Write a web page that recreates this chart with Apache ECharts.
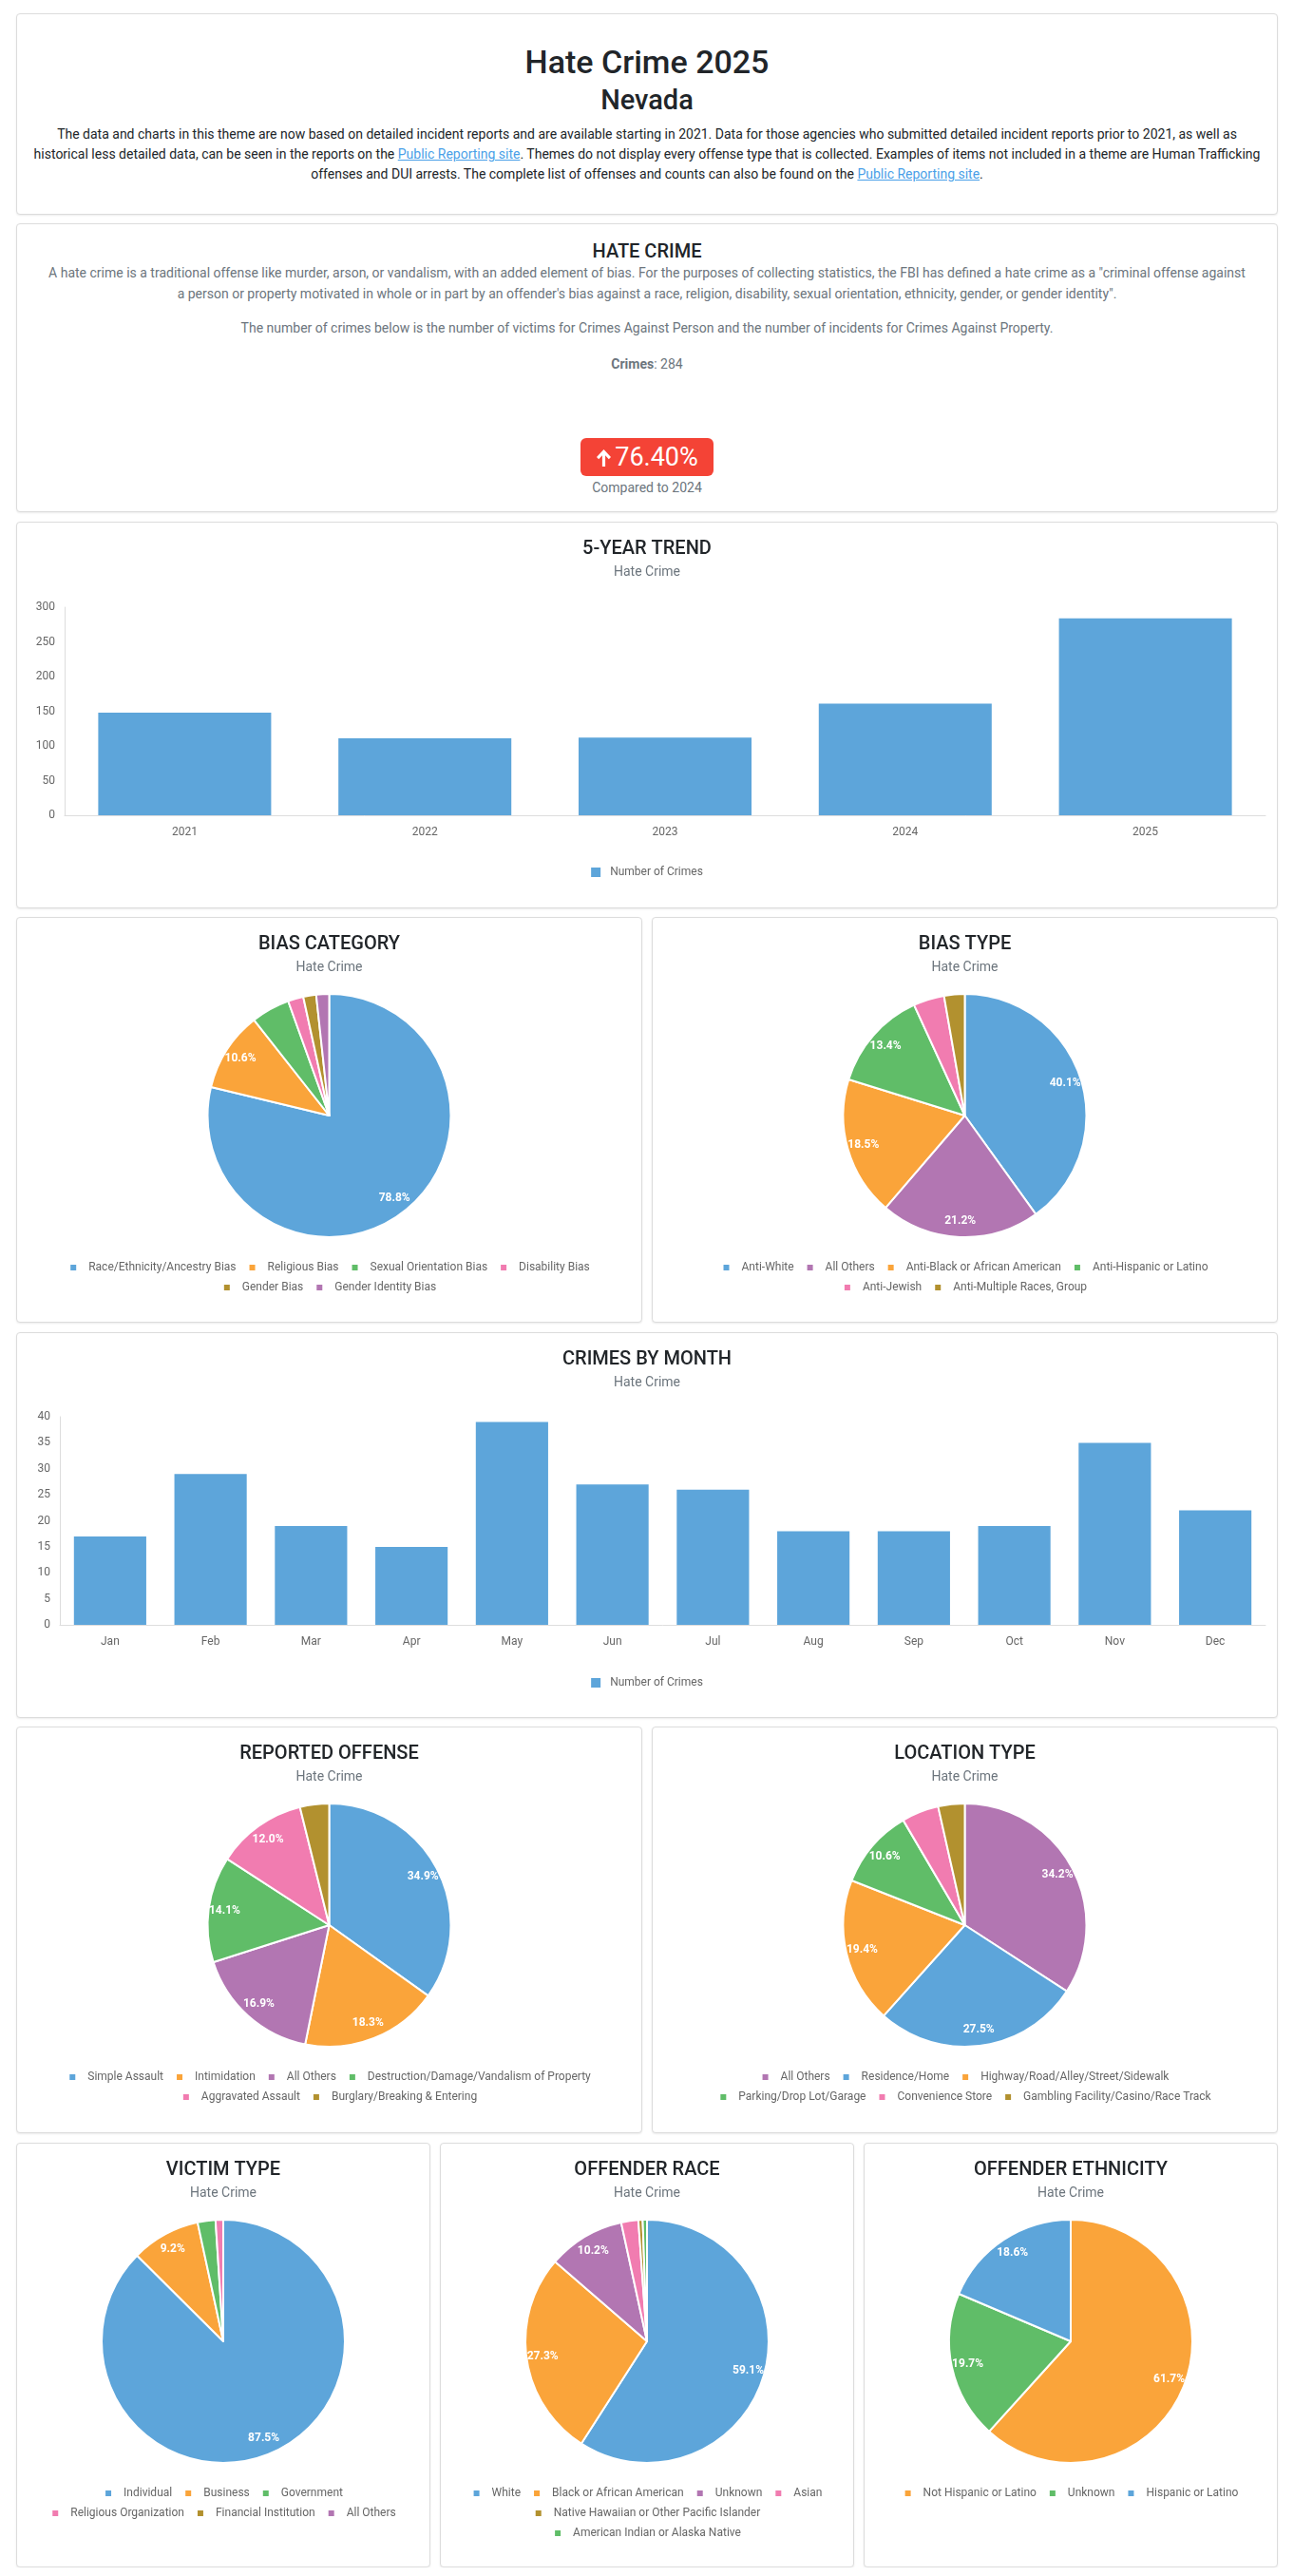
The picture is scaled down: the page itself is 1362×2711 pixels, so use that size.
<!DOCTYPE html>
<html>
<head>
<meta charset="utf-8">
<title>Hate Crime 2025 - Nevada</title>
<script src="https://cdn.jsdelivr.net/npm/echarts@6/dist/echarts.min.js"></script>
<style>
    body { margin: 0; background: #fff; font-family: Roboto, "Noto Sans", sans-serif; }
    .page { width: 1328px; margin: 0 17px; padding-top: 14px; }
    .card { position: relative; box-sizing: border-box; border: 1px solid #dcdcdc; border-radius: 4px;
            box-shadow: 0 1px 2px rgba(0,0,0,0.08); background: #fff; }
    .row { display: flex; gap: 10px; }
    .row .card { flex: 1 1 0; }
    .chart { width: 100%; height: 100%; }
    .line { position: absolute; left: 0; right: 0; text-align: center; white-space: nowrap; }
    .h1 { font-size: 34px; line-height: 40px; font-weight: 500; color: #212529; }
    .h2 { font-size: 29px; line-height: 34px; font-weight: 500; color: #212529; }
    .h3 { font-size: 20px; line-height: 24px; font-weight: 500; color: #212529; }
    .txt { font-size: 14px; line-height: 21px; color: #212529; }
    .muted { font-size: 14px; line-height: 22px; color: #6c757d; }
    a { color: #4a9fe8; text-decoration: underline; }
    .badge { position: absolute; left: 50%; margin-left: -70px; width: 140px; height: 40px; border-radius: 6px;
             background: #f44336; color: #fff; font-size: 27px; line-height: 40px; text-align: center; }
    .badge svg { vertical-align: -2px; margin-right: 3px; }
</style>
</head>
<body>
<div class="page">

    <div class="card" style="height:212px;">
        <div class="line h1" style="top:30px;">Hate Crime 2025</div>
        <div class="line h2" style="top:73px;">Nevada</div>
        <div class="line txt" style="top:116px;">
            The data and charts in this theme are now based on detailed incident reports and are available starting in 2021. Data for those agencies who submitted detailed incident reports prior to 2021, as well as<br>
            historical less detailed data, can be seen in the reports on the <a>Public Reporting site</a>. Themes do not display every offense type that is collected. Examples of items not included in a theme are Human Trafficking<br>
            offenses and DUI arrests. The complete list of offenses and counts can also be found on the <a>Public Reporting site</a>.
        </div>
    </div>

    <div class="card" style="height:304px; margin-top:9px;">
        <div class="line h3" style="top:16px;">HATE CRIME</div>
        <div class="line muted" style="top:40px;">
            A hate crime is a traditional offense like murder, arson, or vandalism, with an added element of bias. For the purposes of collecting statistics, the FBI has defined a hate crime as a "criminal offense against<br>
            a person or property motivated in whole or in part by an offender's bias against a race, religion, disability, sexual orientation, ethnicity, gender, or gender identity".
        </div>
        <div class="line muted" style="top:98px;">The number of crimes below is the number of victims for Crimes Against Person and the number of incidents for Crimes Against Property.</div>
        <div class="line muted" style="top:136px;"><b>Crimes</b>: <span id="crimeTotal"></span></div>
        <div class="badge" style="top:225px;"><svg width="17" height="20" viewBox="0 0 17 20"><path d="M8.5 1 L16 9 L13.8 11.2 L10.1 7.3 L10.1 19 L6.9 19 L6.9 7.3 L3.2 11.2 L1 9 Z" fill="#fff"/></svg><span id="changePct"></span></div>
        <div class="line muted" style="top:266px;">Compared to <span id="prevYear"></span></div>
    </div>

    <div class="card" style="height:407px; margin-top:10px;"><div class="chart" id="trend"></div></div>

    <div class="row" style="height:427px; margin-top:9px;">
        <div class="card"><div class="chart" id="biasCategory"></div></div>
        <div class="card"><div class="chart" id="biasType"></div></div>
    </div>

    <div class="card" style="height:406px; margin-top:10px;"><div class="chart" id="byMonth"></div></div>

    <div class="row" style="height:428px; margin-top:9px;">
        <div class="card"><div class="chart" id="offense"></div></div>
        <div class="card"><div class="chart" id="location"></div></div>
    </div>

    <div class="row" style="height:447px; margin-top:10px;">
        <div class="card"><div class="chart" id="victimType"></div></div>
        <div class="card"><div class="chart" id="offenderRace"></div></div>
        <div class="card"><div class="chart" id="offenderEthnicity"></div></div>
    </div>
</div>

<script>
// data
const trendYears = ["2021", "2022", "2023", "2024", "2025"];
const trendCrimes = [148, 111, 112, 161, 284];

const months = ["Jan", "Feb", "Mar", "Apr", "May", "Jun", "Jul", "Aug", "Sep", "Oct", "Nov", "Dec"];
const monthCrimes = [17, 29, 19, 15, 39, 27, 26, 18, 18, 19, 35, 22];

const biasCategoryNames = ["Race/Ethnicity/Ancestry Bias", "Religious Bias", "Sexual Orientation Bias", "Disability Bias", "Gender Bias", "Gender Identity Bias"];
const biasCategoryValues = [230, 31, 15, 6, 5, 5];

const biasTypeNames = ["Anti-White", "All Others", "Anti-Black or African American", "Anti-Hispanic or Latino", "Anti-Jewish", "Anti-Multiple Races, Group"];
const biasTypeValues = [117, 62, 54, 39, 12, 8];

const offenseNames = ["Simple Assault", "Intimidation", "All Others", "Destruction/Damage/Vandalism of Property", "Aggravated Assault", "Burglary/Breaking & Entering"];
const offenseValues = [99, 52, 48, 40, 34, 11];

const locationNames = ["All Others", "Residence/Home", "Highway/Road/Alley/Street/Sidewalk", "Parking/Drop Lot/Garage", "Convenience Store", "Gambling Facility/Casino/Race Track"];
const locationValues = [97, 78, 55, 30, 14, 10];

const victimNames = ["Individual", "Business", "Government", "Religious Organization", "Financial Institution", "All Others"];
const victimValues = [258, 27, 7, 3, 0, 0];

const raceNames = ["White", "Black or African American", "Unknown", "Asian", "Native Hawaiian or Other Pacific Islander", "American Indian or Alaska Native"];
const raceValues = [104, 48, 18, 4, 1, 1];

const ethnicityNames = ["Not Hispanic or Latino", "Unknown", "Hispanic or Latino"];
const ethnicityValues = [116, 37, 35];

// colours
const BLUE = "#5DA5DA", ORANGE = "#FAA43A", GREEN = "#60BD68", PINK = "#F17CB0", GOLD = "#B2912F", PURPLE = "#B276B2";

//fill the summary card
const curCrimes = trendCrimes[trendCrimes.length - 1];
const prevCrimes = trendCrimes[trendCrimes.length - 2];
document.getElementById("crimeTotal").textContent = curCrimes;
document.getElementById("changePct").textContent = ((curCrimes - prevCrimes) / prevCrimes * 100).toFixed(2) + "%";
document.getElementById("prevYear").textContent = trendYears[trendYears.length - 2];

//title + "Hate Crime" subtitle used by every chart card
function heading(text) {
    return [
        { text: text, left: "center", top: 16, padding: 0,
          textStyle: { fontSize: 20, fontWeight: 500, color: "#212529", lineHeight: 24 } },
        { text: "Hate Crime", left: "center", top: 44, padding: 0,
          textStyle: { fontSize: 14, fontWeight: "normal", color: "#6c757d", lineHeight: 16 } }
    ];
}

function barChart(id, title, cats, values, yMax, yInterval, gridLeft, gridTop) {
    const chart = echarts.init(document.getElementById(id), null, { renderer: "canvas" });
    chart.setOption({
        animation: false,
        textStyle: { fontFamily: "Roboto" },
        title: heading(title),
        legend: {
            data: ["Number of Crimes"], left: "center", top: 361, padding: 0,
            icon: "rect", itemWidth: 10, itemHeight: 10, selectedMode: false,
            textStyle: { fontSize: 12, color: "#666", lineHeight: 14, padding: [0, 0, 0, 5] }
        },
        grid: { left: gridLeft, right: 12, top: gridTop, bottom: 97 },
        xAxis: {
            type: "category", data: cats,
            axisLine: { lineStyle: { color: "#ddd" } },
            axisTick: { show: false },
            axisLabel: { color: "#666", fontSize: 12, margin: 12 }
        },
        yAxis: {
            type: "value", min: 0, max: yMax, interval: yInterval,
            axisLine: { show: true, lineStyle: { color: "#ddd" } },
            axisTick: { show: false },
            splitLine: { show: false },
            axisLabel: { color: "#666", fontSize: 12, margin: 10 }
        },
        series: [{
            name: "Number of Crimes", type: "bar", data: values,
            barCategoryGap: "28%",
            itemStyle: { color: BLUE }
        }]
    });
    return chart;
}

function pieChart(id, title, names, values, colors, rowSizes) {
    const total = values.reduce((a, b) => a + b, 0);
    const data = names.map((n, i) => ({ name: n, value: values[i], itemStyle: { color: colors[i] } }));

    //one legend per row so each row is centred like the original
    let start = 0;
    const legends = rowSizes.map((size, r) => {
        const row = names.slice(start, start + size);
        start += size;
        return {
            data: row, left: "center", top: 361 + r * 21, padding: 0,
            icon: "rect", itemWidth: 8, itemHeight: 8, itemGap: 12, selectedMode: false,
            textStyle: { fontSize: 12, color: "#666", lineHeight: 14, padding: [0, 0, 0, 7] }
        };
    });

    const chart = echarts.init(document.getElementById(id), null, { renderer: "canvas" });
    chart.setOption({
        animation: false,
        textStyle: { fontFamily: "Roboto" },
        title: heading(title),
        legend: legends,
        series: [
            {
                type: "pie", radius: 128, center: ["50%", 208],
                startAngle: 90, clockwise: true,
                data: data,
                label: { show: false }, labelLine: { show: false },
                itemStyle: { borderColor: "#fff", borderWidth: 2 },
                emphasis: { disabled: true }
            },
            {
                //transparent ring only used to place the % labels near the rim
                type: "pie", radius: [88, 128], center: ["50%", 208],
                startAngle: 90, clockwise: true, silent: true,
                data: data.map(d => ({ name: d.name, value: d.value })),
                itemStyle: { color: "rgba(0,0,0,0)", borderWidth: 0 },
                labelLine: { show: false },
                label: {
                    show: true, position: "inside", color: "#fff", fontSize: 12, fontWeight: "bold",
                    formatter: (p) => {
                        const pct = p.value / total * 100;
                        return pct >= 8 ? pct.toFixed(1) + "%" : "";
                    }
                },
                emphasis: { disabled: true }
            }
        ]
    });
    return chart;
}

const charts = [
    barChart("trend", "5-YEAR TREND", trendYears, trendCrimes, 300, 50, 50, 89),
    pieChart("biasCategory", "BIAS CATEGORY", biasCategoryNames, biasCategoryValues, [BLUE, ORANGE, GREEN, PINK, GOLD, PURPLE], [4, 2]),
    pieChart("biasType", "BIAS TYPE", biasTypeNames, biasTypeValues, [BLUE, PURPLE, ORANGE, GREEN, PINK, GOLD], [4, 2]),
    barChart("byMonth", "CRIMES BY MONTH", months, monthCrimes, 40, 5, 45, 88),
    pieChart("offense", "REPORTED OFFENSE", offenseNames, offenseValues, [BLUE, ORANGE, PURPLE, GREEN, PINK, GOLD], [4, 2]),
    pieChart("location", "LOCATION TYPE", locationNames, locationValues, [PURPLE, BLUE, ORANGE, GREEN, PINK, GOLD], [3, 3]),
    pieChart("victimType", "VICTIM TYPE", victimNames, victimValues, [BLUE, ORANGE, GREEN, PINK, GOLD, PURPLE], [3, 3]),
    pieChart("offenderRace", "OFFENDER RACE", raceNames, raceValues, [BLUE, ORANGE, PURPLE, PINK, GOLD, GREEN], [4, 1, 1]),
    pieChart("offenderEthnicity", "OFFENDER ETHNICITY", ethnicityNames, ethnicityValues, [ORANGE, GREEN, BLUE], [3])
];

window.addEventListener("resize", () => {
    charts.forEach(c => c.resize());
});
</script>
</body>
</html>
